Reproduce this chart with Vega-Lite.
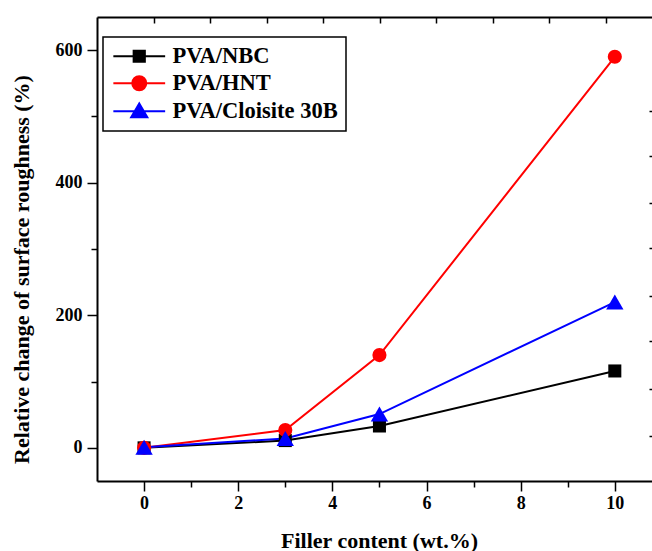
{
  "$schema": "https://vega.github.io/schema/vega-lite/v6.json",
  "width": 555,
  "height": 464,
  "autosize": {"type": "none"},
  "padding": {"left": 97, "top": 17, "right": 0, "bottom": 70},
  "background": "white",
  "config": {
    "view": {"stroke": null},
    "font": "Liberation Serif",
    "axis": {
      "labelFont": "Liberation Serif",
      "labelFontWeight": "bold",
      "labelFontSize": 18,
      "labelColor": "black",
      "titleFont": "Liberation Serif",
      "titleFontWeight": "bold",
      "titleFontSize": 22,
      "titleColor": "black",
      "domainColor": "black",
      "domainWidth": 2,
      "tickColor": "black",
      "tickWidth": 1.5,
      "grid": false
    },
    "legend": {"strokeColor": "black"}
  },
  "data": {
    "values": [
      {"series": "PVA/NBC", "x": 0, "y": 0},
      {"series": "PVA/NBC", "x": 3, "y": 11},
      {"series": "PVA/NBC", "x": 5, "y": 33},
      {"series": "PVA/NBC", "x": 10, "y": 116},
      {"series": "PVA/HNT", "x": 0, "y": 0},
      {"series": "PVA/HNT", "x": 3, "y": 27},
      {"series": "PVA/HNT", "x": 5, "y": 140},
      {"series": "PVA/HNT", "x": 10, "y": 590},
      {"series": "PVA/Cloisite 30B", "x": 0, "y": 1},
      {"series": "PVA/Cloisite 30B", "x": 3, "y": 14},
      {"series": "PVA/Cloisite 30B", "x": 5, "y": 51},
      {"series": "PVA/Cloisite 30B", "x": 10, "y": 220}
    ]
  },
  "layer": [
    {
      "mark": {"type": "line", "strokeWidth": 2},
      "encoding": {
        "x": {
          "field": "x", "type": "quantitative",
          "scale": {"domain": [-1, 10.79], "nice": false, "zero": false},
          "axis": {
            "orient": "bottom",
            "values": [0, 1, 2, 3, 4, 5, 6, 7, 8, 9, 10],
            "labelExpr": "datum.value % 2 == 0 ? datum.label : ''",
            "tickSize": {"condition": {"test": "datum.value % 2 != 0", "value": 6}, "value": 10},
            "labelPadding": 3,
            "title": "Filler content (wt.%)",
            "titlePadding": 18,
            "titleX": 282
          }
        },
        "y": {
          "field": "y", "type": "quantitative",
          "scale": {"domain": [-50, 650], "nice": false, "zero": false},
          "axis": {
            "orient": "left",
            "values": [0, 100, 200, 300, 400, 500, 600],
            "labelExpr": "datum.value % 200 == 0 ? datum.label : ''",
            "tickSize": {"condition": {"test": "datum.value % 200 != 0", "value": 6}, "value": 10},
            "labelPadding": 5,
            "title": "Relative change of surface roughness (%)",
            "titlePadding": 22,
            "titleY": 252
          }
        },
        "color": {
          "field": "series", "type": "nominal",
          "scale": {"domain": ["PVA/NBC", "PVA/HNT", "PVA/Cloisite 30B"], "range": ["#000000", "#ff0000", "#0000ff"]},
          "legend": {
            "orient": "none",
            "legendX": 6,
            "legendY": 20,
            "title": null,
            "padding": 8,
            "fillColor": "white",
            "labelFont": "Liberation Serif",
            "labelFontWeight": "bold",
            "labelFontSize": 22.5,
            "labelColor": "black",
            "labelLimit": 0,
            "symbolSize": 196,
            "symbolOffset": 17,
            "labelOffset": 22,
            "rowPadding": 4,
            "encode": {
              "legend": {"update": {"strokeWidth": {"value": 1.5}}},
              "symbols": {
                "update": {
                  "shape": {"signal": "datum.value === 'PVA/NBC' ? 'M-3.7,0H3.7M-0.8,-0.8H0.8V0.8H-0.8Z' : datum.value === 'PVA/HNT' ? 'M-3.7,0H3.7M-1,0A1,1 0 1,0 1,0A1,1 0 1,0 -1,0Z' : 'M-3.7,0H3.7M-1.15,0.85L0,-1.1L1.15,0.85Z'"},
                  "fill": {"scale": "color", "field": "value"},
                  "stroke": {"scale": "color", "field": "value"},
                  "strokeWidth": {"value": 2},
                  "opacity": {"value": 1}
                }
              }
            }
          }
        }
      }
    },
    {
      "mark": {"type": "point", "filled": true, "opacity": 1},
      "encoding": {
        "x": {
          "field": "x", "type": "quantitative",
          "axis": {
            "orient": "top",
            "values": [0.21, 1.41, 2.61, 3.81, 5.01, 6.21, 7.41, 8.61, 9.81],
            "labels": false,
            "tickSize": -6,
            "title": null
          }
        },
        "y": {
          "field": "y", "type": "quantitative",
          "axis": {
            "orient": "right",
            "values": [18, 89, 161, 229, 301, 369, 440, 508],
            "labels": false,
            "domain": false,
            "tickSize": -3,
            "title": null
          }
        },
        "color": {"field": "series", "type": "nominal"},
        "shape": {
          "condition": [
            {"test": "datum.series === 'PVA/HNT'", "value": "circle"},
            {"test": "datum.series === 'PVA/Cloisite 30B'", "value": "triangle-up"}
          ],
          "value": "square"
        },
        "size": {
          "condition": [
            {"test": "datum.series === 'PVA/HNT'", "value": 200},
            {"test": "datum.series === 'PVA/Cloisite 30B'", "value": 300}
          ],
          "value": 170
        }
      }
    }
  ]
}
